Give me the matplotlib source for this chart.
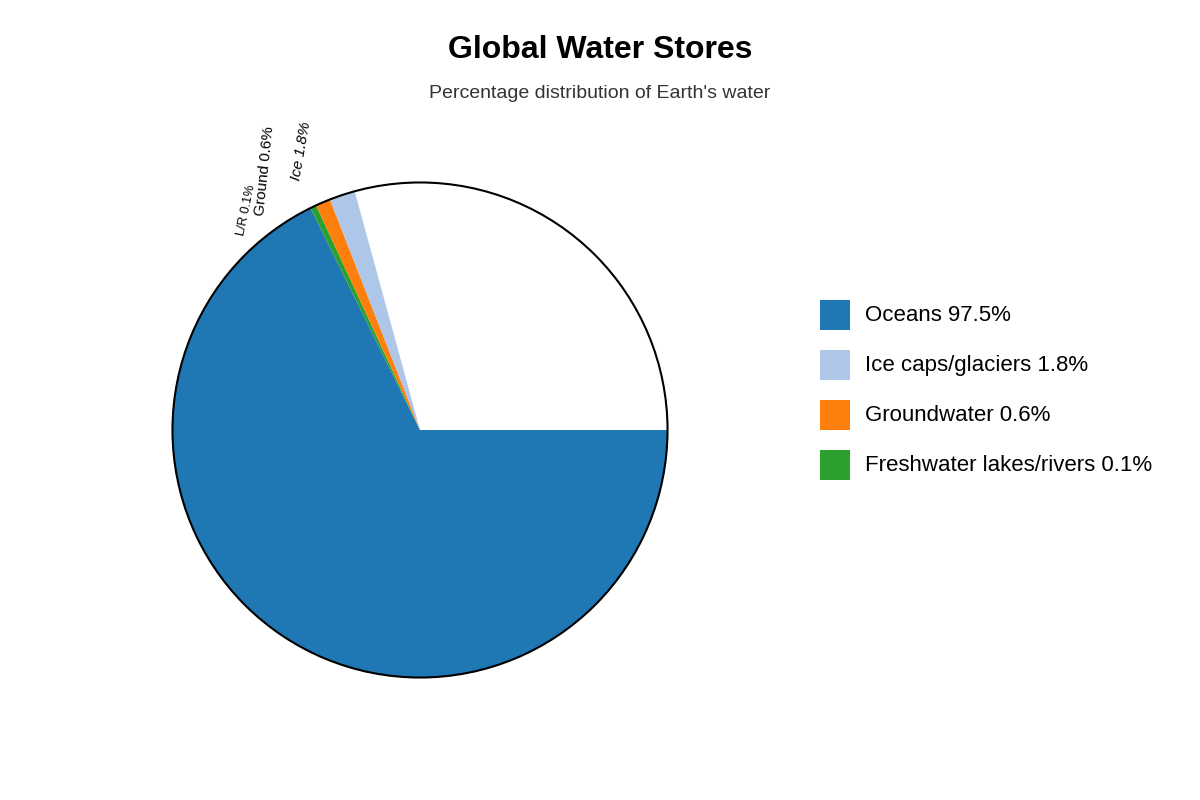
import numpy as np
import matplotlib.pyplot as plt
from matplotlib.patches import Circle, Rectangle, Wedge

labels = ['Oceans', 'Ice caps/glaciers', 'Groundwater', 'Freshwater lakes/rivers']
short = ['Oceans', 'Ice', 'Ground', 'L/R']
values = [97.5, 1.8, 0.6, 0.1]
colors = ['#1f77b4', '#aec7e8', '#ff7f0e', '#2ca02c']
scale_total = 144.0  # oceans drawn against this total, leaving an empty gap

plt.rcParams['font.family'] = ['Liberation Sans', 'DejaVu Sans']

fig = plt.figure(figsize=(12, 8), dpi=100)
fig.patch.set_facecolor('white')
ax = fig.add_axes([170 / 1200, 120 / 800, 500 / 1200, 500 / 800])
ax.set_xlim(-1.01, 1.01)
ax.set_ylim(-1.01, 1.01)
ax.set_aspect('equal')
ax.axis('off')

# clockwise from east: Oceans, lakes, ground, ice
ocean_span = values[0] / scale_total * 360
ax.add_patch(Wedge((0, 0), 1, -ocean_span, 0, facecolor=colors[0], lw=0))
start = 360 - ocean_span
label_style = {1: (1.226, 113, 80, 'italic', 11),
               2: (1.22, 121.0, 84, 'normal', 11),
               3: (1.13, 128.3, 78, 'normal', 9)}
for i in [3, 2, 1]:
    span = np.sqrt(values[i]) * 4.5
    ax.add_patch(Wedge((0, 0), 1, start - span, start, facecolor=colors[i], lw=0))
    start -= span
for i, (r, a, rot, style, fs) in label_style.items():
    a = np.deg2rad(a)
    ax.text(r * np.cos(a), r * np.sin(a), f'{short[i]} {values[i]}%',
            rotation=rot, ha='center', va='center', style=style,
            fontsize=fs, clip_on=False)
ax.add_patch(Circle((0, 0), 1, fill=False, edgecolor='black', lw=1.5, zorder=5))

fig.text(0.5, 1 - 50 / 800, 'Global Water Stores', ha='center', va='center',
         fontsize=23, fontweight='bold')
fig.text(0.5, 1 - 93 / 800, "Percentage distribution of Earth's water",
         ha='center', va='center', fontsize=14, color='#333333')

for k, (lab, v, c) in enumerate(zip(labels, values, colors)):
    y = 315 + 50 * k
    fig.patches.append(Rectangle((820 / 1200, 1 - (y + 15) / 800), 30 / 1200, 30 / 800,
                                 transform=fig.transFigure, facecolor=c, edgecolor='none'))
    fig.text(865 / 1200, 1 - y / 800, f'{lab} {v}%', va='center', fontsize=16)

fig.savefig('out.png', dpi=100)
